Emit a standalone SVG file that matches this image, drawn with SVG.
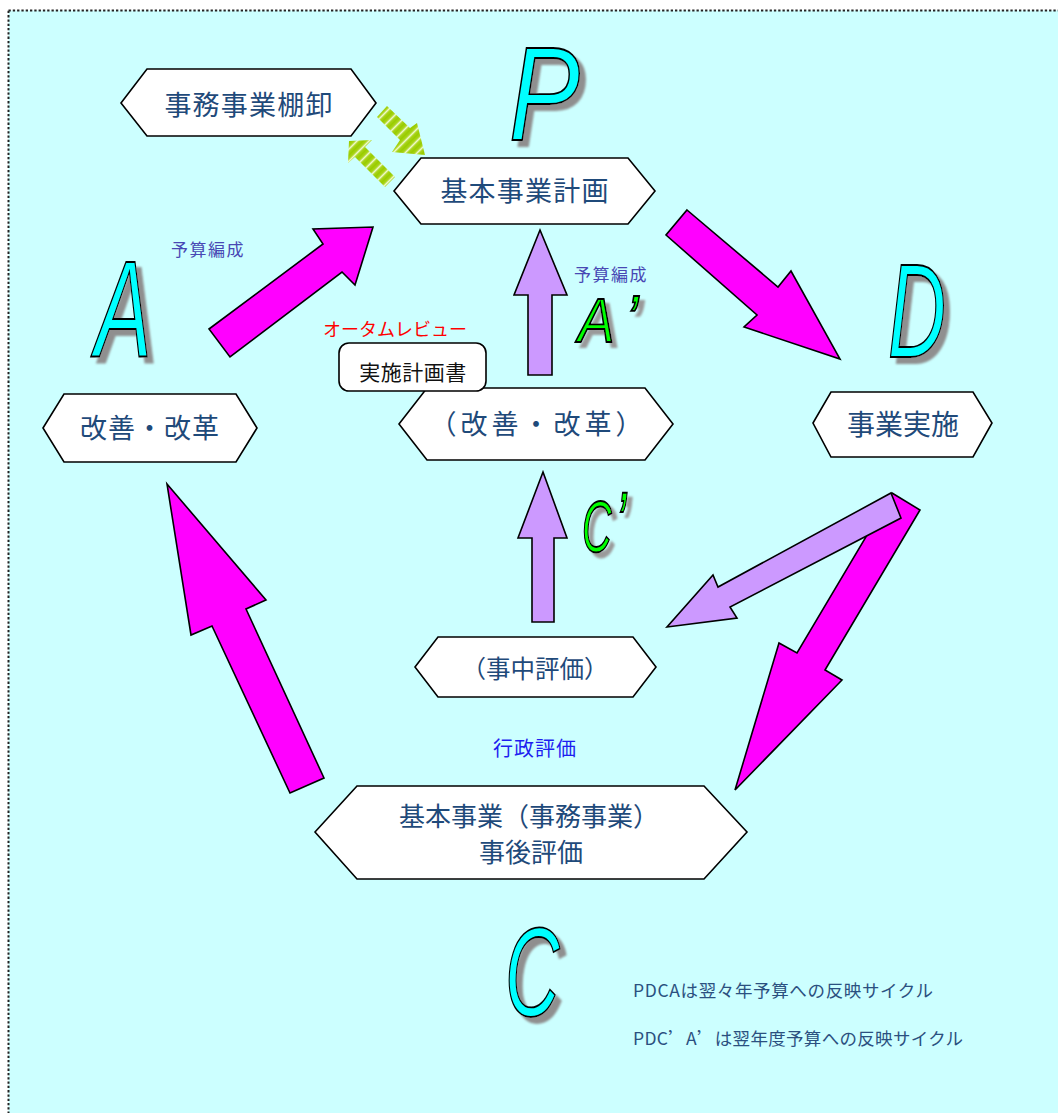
<svg xmlns="http://www.w3.org/2000/svg" width="1058" height="1113" viewBox="0 0 1058 1113">
<style>
.hex{fill:#fff;stroke:#000;stroke-width:1.6}
.lbl{font-family:"Noto Sans CJK JP","Liberation Sans",sans-serif;fill:#1F4A7A;text-anchor:middle}
.small{font-family:"Noto Sans CJK JP","Liberation Sans",sans-serif}
.pink{fill:#FF00FF;stroke:#000;stroke-width:1.6;stroke-linejoin:miter}
.lav{fill:#CC99FF;stroke:#000;stroke-width:1.6;stroke-linejoin:miter}
.big{font-family:"Liberation Sans",Arial,sans-serif;font-style:italic;fill:#00FFFF;stroke:#000;stroke-width:1.8}
.bigg{font-family:"Liberation Sans",Arial,sans-serif;font-style:italic;fill:#00FF00;stroke:#000;stroke-width:1.8}
.stripe{fill:url(#stripes)}
.fw{font-feature-settings:"fwid"}
</style>
<defs>
<linearGradient id="stripes" gradientUnits="userSpaceOnUse" x1="0" y1="0" x2="6" y2="6" spreadMethod="repeat">
<stop offset="0" stop-color="#99CC00"/>
<stop offset="0.3" stop-color="#A8D41A"/>
<stop offset="0.5" stop-color="#EEF8C8"/>
<stop offset="0.7" stop-color="#A8D41A"/>
<stop offset="1" stop-color="#99CC00"/>
</linearGradient>
<filter id="ds" x="-20%" y="-20%" width="150%" height="150%">
<feGaussianBlur in="SourceAlpha" stdDeviation="1.3" result="b"/>
<feOffset in="b" dx="6" dy="6" result="o"/>
<feFlood flood-color="#8f8f8f"/>
<feComposite in2="o" operator="in" result="s"/>
<feMerge><feMergeNode in="s"/><feMergeNode in="SourceGraphic"/></feMerge>
</filter>
<filter id="ds2" x="-20%" y="-20%" width="150%" height="150%">
<feGaussianBlur in="SourceAlpha" stdDeviation="1.2" result="b"/>
<feOffset in="b" dx="5" dy="5" result="o"/>
<feFlood flood-color="#9a9a9a"/>
<feComposite in2="o" operator="in" result="s"/>
<feMerge><feMergeNode in="s"/><feMergeNode in="SourceGraphic"/></feMerge>
</filter>
</defs>

<rect x="0" y="0" width="1058" height="1113" fill="#fff"/>
<rect x="8.5" y="10.5" width="1070" height="1120" fill="#CCFFFF" stroke="#222" stroke-width="2" stroke-dasharray="2.3 2"/>

<g id="connectors">
<polygon class="pink" points="209,329 323,244 313,229 373,227 355,285 342,272 230,357"/>
<polygon class="pink" points="687,210 778,287 791,271 840,359 744,327 757,315 666,235"/>
<polygon class="lav" points="540,230 567,295 552,295 552,375 528,375 528,295 514,295"/>
<polygon class="lav" points="543,472 567,538 554,538 554,622 532,622 532,538 518,538"/>
<polygon class="pink" points="892,493 920,510 825,670 842,680 735,790 779,643 797,653"/>
<polygon class="lav" points="891,493 901,518 730,607 737,618 667,627 713,575 718,587"/>
<polygon class="pink" points="167,484 266,600 246,609 324,778 290,793 212,626 191,635"/>
<polygon class="stripe" points="377,117 387,106 410,128 417,123 425,155 392,152 400,140"/>
<polygon class="stripe" points="349,141 372,140 365,147 395,177 385,187 355,157 348,163"/>
</g>

<g id="node-tanaoroshi">
<polygon class="hex" points="121,103 147,69 351,69 376,103 351,136 147,136"/>
<text class="lbl" x="249" y="115" font-size="27" letter-spacing="1.2">事務事業棚卸</text>
</g>
<g id="node-plan">
<polygon class="hex" points="394,191 421,158 628,158 655,191 628,224 421,224"/>
<text class="lbl" x="525" y="201" font-size="27" letter-spacing="1.2">基本事業計画</text>
</g>
<g id="node-kaizen">
<polygon class="hex" points="43,428 64,394 236,394 257,428 236,462 64,462"/>
<text class="lbl" x="150" y="438" font-size="27" letter-spacing="1">改善・改革</text>
</g>
<g id="node-kaizen2">
<polygon class="hex" points="399,424 427,388 645,388 673,424 645,460 427,460"/>
<text class="lbl" x="538" y="434" font-size="27" letter-spacing="4">（改善・改革）</text>
</g>
<g id="node-jisshi">
<polygon class="hex" points="813,423 831,392 973,392 992,423 973,457 831,457"/>
<text class="lbl" x="903" y="435" font-size="28">事業実施</text>
</g>
<g id="node-jichu">
<polygon class="hex" points="415,667 438,637 633,637 656,667 633,697 438,697"/>
<text class="lbl" x="535" y="678" font-size="24.5">（事中評価）</text>
</g>
<g id="node-jigo">
<polygon class="hex" points="315,832 357,786 704,786 747,832 704,879 357,879"/>
<text class="lbl" x="529" y="826" font-size="26">基本事業（事務事業）</text>
<text class="lbl" x="531" y="862" font-size="26">事後評価</text>
</g>
<g id="node-keikakusho">
<rect x="339" y="343" width="147" height="48" rx="10" ry="10" fill="#fff" stroke="#000" stroke-width="1.6"/>
<text class="small" x="413" y="380" font-size="21" letter-spacing="0.5" text-anchor="middle" fill="#111">実施計画書</text>
</g>

<g id="labels">
<text class="small" x="208" y="256" font-size="17" letter-spacing="1.5" text-anchor="middle" fill="#4848B4">予算編成</text>
<text class="small" x="611" y="281" font-size="17" letter-spacing="1.5" text-anchor="middle" fill="#4848B4">予算編成</text>
<text class="small" x="395" y="336" font-size="18" text-anchor="middle" fill="#FF0000">オータムレビュー</text>
<text class="small" x="535" y="756" font-size="20" letter-spacing="1" text-anchor="middle" fill="#1E1EF0">行政評価</text>
<text class="small" x="633" y="997" font-size="17.5" textLength="300" fill="#2B5080">PDCAは翌々年予算への反映サイクル</text>
<text class="small" x="633" y="1045" font-size="17.5" textLength="330" fill="#2B5080">PDC<tspan class="fw">’</tspan>A<tspan class="fw">’</tspan>は翌年度予算への反映サイクル</text>
</g>

<g id="letter-P" filter="url(#ds)"><text class="big" font-size="133" transform="translate(509,140) scale(0.8,1)">P</text></g>
<g id="letter-A" filter="url(#ds)"><text class="big" font-size="137" transform="translate(95,357) scale(0.62,1)">A</text></g>
<g id="letter-D" filter="url(#ds)"><text class="big" font-size="134" transform="translate(888,357) scale(0.6,1)">D</text></g>
<g id="letter-C" filter="url(#ds)"><text class="big" font-size="126" transform="translate(505,1016) scale(0.6,1)">C</text></g>
<g id="letter-A2" filter="url(#ds2)"><text class="bigg" font-size="63" transform="translate(578,342) scale(0.87,1)">A<tspan font-size="66" dx="13">’</tspan></text></g>
<g id="letter-C2" filter="url(#ds2)"><text class="bigg" font-size="72" transform="translate(582,552) scale(0.57,1)">C<tspan font-size="85" dx="7">’</tspan></text></g>
</svg>
